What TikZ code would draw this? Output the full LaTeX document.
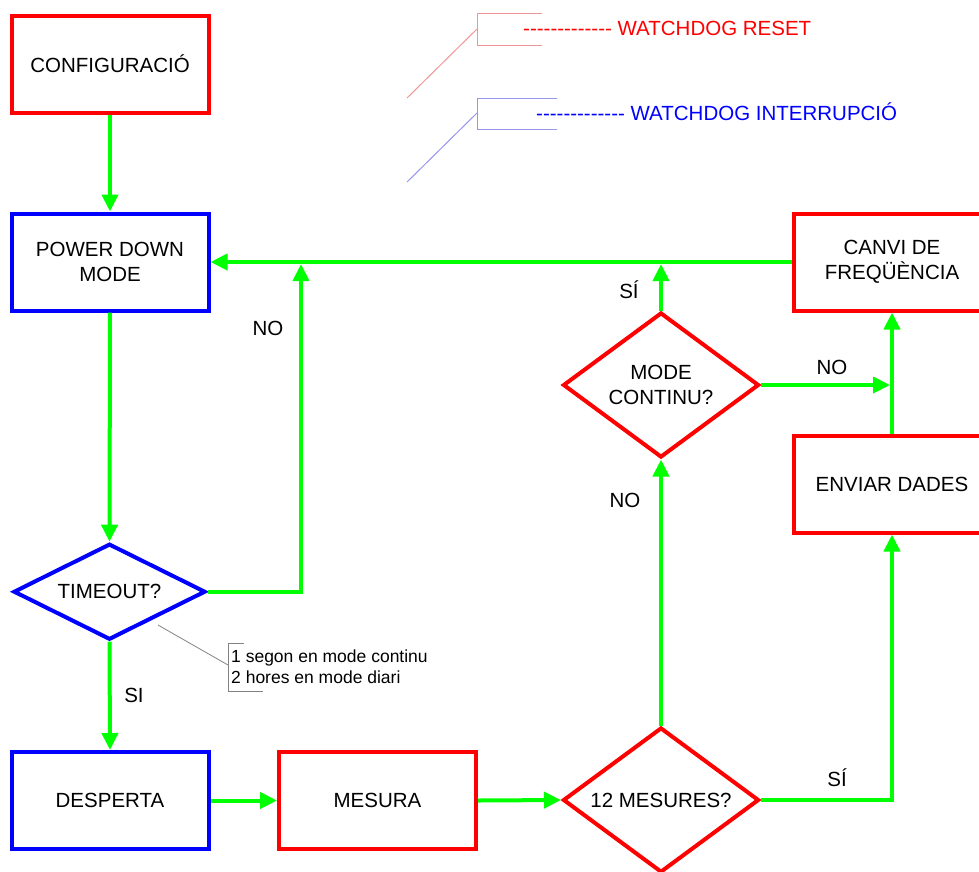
\documentclass[tikz,border=0pt]{standalone}
\usepackage{fontspec}
\setmainfont{Liberation Sans}
\usetikzlibrary{arrows.meta,shapes.geometric}

\definecolor{verd}{RGB}{0,255,0}
\definecolor{vermell}{RGB}{255,0,0}
\definecolor{blau}{RGB}{0,0,255}
\definecolor{rosa}{RGB}{240,150,150}
\definecolor{blauclar}{RGB}{150,150,235}
\definecolor{gris}{RGB}{130,130,130}

\newcommand{\ratlla}{-{}-{}-{}-{}-{}-{}-{}-{}-{}-{}-{}-{}-}

\tikzset{
    bloc/.style={draw, rectangle, line width=4pt, minimum width=197pt,
        minimum height=97pt, inner sep=0pt, align=center,
        font=\fontsize{20.5}{25}\selectfont},
    pregunta/.style={draw, diamond, line width=4pt, inner sep=0pt,
        align=center, font=\fontsize{20.5}{25}\selectfont},
    fletxa/.style={verd, line width=4pt, -{Triangle[width=16pt,length=17pt]}},
    etiqueta/.style={inner sep=0pt, font=\fontsize{20.5}{25}\selectfont},
}

\begin{document}
\begin{tikzpicture}[x=1pt, y=-1pt]
        \useasboundingbox (0,0) rectangle (979,871);
        \clip (0,0) rectangle (979,871);

        % ~~~~ Blocs ~~~~ %
        \node[bloc, vermell] (conf) at (110,64) {\color{black}CONFIGURACIÓ};
        \node[bloc, blau] (power) at (110,262) {\color{black}POWER DOWN\\\color{black}MODE};
        \node[pregunta, blau, aspect=2, minimum width=192pt, minimum height=96pt]
            (timeout) at (109.5,591.7) {\color{black}TIMEOUT?};
        \node[bloc, blau] (desperta) at (110,800.5) {\color{black}DESPERTA};
        \node[bloc, vermell] (mesura) at (377.5,800.5) {\color{black}MESURA};
        \node[pregunta, vermell, aspect=1.35, minimum width=196pt, minimum height=145pt]
            (dotze) at (661,800) {\color{black}12 MESURES?};
        \node[pregunta, vermell, aspect=1.35, minimum width=196pt, minimum height=145pt]
            (modec) at (661,385) {\color{black}MODE\\\color{black}CONTINU?};
        \node[bloc, vermell] (enviar) at (892,484) {\color{black}ENVIAR DADES};
        \node[bloc, vermell] (canvi) at (892,262) {\color{black}CANVI DE\\\color{black}FREQÜÈNCIA};

        % ~~~~ Fletxes ~~~~ %
        \coordinate (junta) at (301,264);
        \draw[fletxa] (conf.south) -- (power.north);
        \draw[fletxa] (power.south) -- (timeout.north);
        \draw[fletxa] (timeout.east) -| (junta);
        \draw[fletxa] (canvi.west) -- (power.east);
        \draw[fletxa] (modec.north) -- (modec.north |- junta);
        \draw[fletxa] (modec.east) -- ([xshift=-2pt]enviar.north |- modec.east);
        \draw[fletxa] (enviar.north) -- (canvi.south);
        \draw[fletxa] (timeout.south) -- (desperta.north);
        \draw[fletxa] (desperta.east) -- (mesura.west);
        \draw[fletxa] (mesura.east) -- (dotze.west);
        \draw[fletxa] (dotze.north) -- (modec.south);
        \draw[fletxa] (dotze.east) -| (enviar.south);

        % ~~~~ Etiquetes ~~~~ %
        \node[etiqueta] (no1) at (268,328) {NO};
        \node[etiqueta] (si1) at (134,695) {SI};
        \node[etiqueta] (si2) at (629,290) {SÍ};
        \node[etiqueta] (no2) at (832,367) {NO};
        \node[etiqueta] (no3) at (625,500) {NO};
        \node[etiqueta] (si3) at (837,778) {SÍ};

        % ~~~~ Llegenda ~~~~ %
        \draw[rosa, line width=1pt] (407,98) -- (477,29);
        \draw[rosa, line width=1pt] (542,13) -- (477,13) -- (477,45) -- (542,45);
        \node[etiqueta, anchor=west, text=vermell] (reset) at (523,28)
            {\ratlla{} WATCHDOG RESET};
        \draw[blauclar, line width=1pt] (407,182) -- (477,113);
        \draw[blauclar, line width=1pt] (557,98) -- (477,98) -- (477,129) -- (557,129);
        \node[etiqueta, anchor=west, text=blau] (interr) at (536,112)
            {\ratlla{} WATCHDOG INTERRUPCIÓ};

        % ~~~~ Nota ~~~~ %
        \coordinate (peu) at (158,625);
        \draw[gris, line width=0.8pt] (peu) -- (228,665);
        \draw[gris, line width=0.8pt] (244,643) -- (228,643) -- (228,691) -- (263,691);
        \node[anchor=west, inner sep=0pt, align=left,
            font=\fontsize{17.5}{21}\selectfont] (nota) at (231,667)
            {1 segon en mode continu\\2 hores en mode diari};
    \end{tikzpicture}
\end{document}
